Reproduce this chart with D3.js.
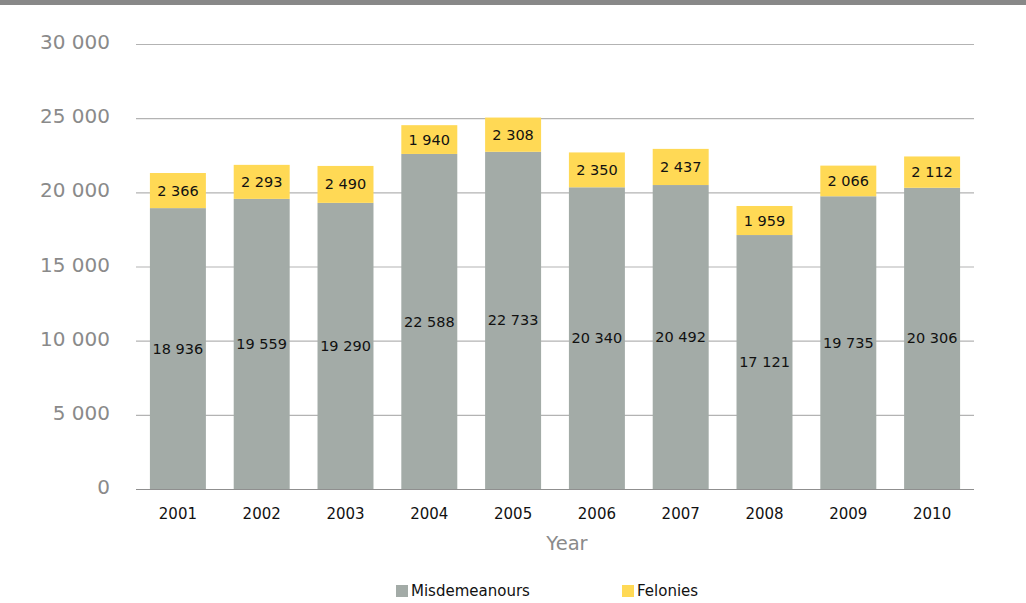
<!DOCTYPE html>
<html>
<head>
<meta charset="utf-8">
<script src="https://cdn.jsdelivr.net/npm/d3@7"></script>
<style>
  body { margin: 0; background: #fff; }
  svg { display: block; font-family: "DejaVu Sans", sans-serif; }
</style>
</head>
<body>
<script>
var years = ["2001", "2002", "2003", "2004", "2005", "2006", "2007", "2008", "2009", "2010"];
var misdemeanours = [18936, 19559, 19290, 22588, 22733, 20340, 20492, 17121, 19735, 20306];
var felonies = [2366, 2293, 2490, 1940, 2308, 2350, 2437, 1959, 2066, 2112];
var yTicks = [0, 5000, 10000, 15000, 20000, 25000, 30000];
var seriesNames = ["Misdemeanours", "Felonies"];
var colors = ["#a3aba7", "#ffd955"];

var W = 1026, H = 603;
var margin = {top: 44, right: 52, bottom: 114, left: 136},
    width = W - margin.left - margin.right,
    height = H - margin.top - margin.bottom;

var fmt = function(v) { return d3.format(",")(v).replace(/,/g, " "); };

var svg = d3.select("body").append("svg")
    .attr("width", W)
    .attr("height", H);

// top band
svg.append("rect").attr("x", 0).attr("y", 0).attr("width", W).attr("height", 5).attr("fill", "#888");

var g = svg.append("g")
    .attr("transform", "translate(" + margin.left + "," + margin.top + ")");

var x = d3.scaleBand().domain(years).range([0, width]).paddingInner(0.332).paddingOuter(0.166);
var y = d3.scaleLinear().domain([0, 30000]).range([height, 0]);

// grid
g.selectAll(".grid")
    .data(yTicks)
    .enter().append("line")
    .attr("x1", 0).attr("x2", width)
    .attr("y1", function(d) { return y(d) + 0.5; })
    .attr("y2", function(d) { return y(d) + 0.5; })
    .attr("stroke", function(d) { return d === 0 ? "#8f8f8f" : "#b3b3b3"; })
    .attr("stroke-width", 1.2);

// y labels
g.selectAll(".ylab")
    .data(yTicks)
    .enter().append("text")
    .attr("x", -26)
    .attr("y", function(d) { return y(d) - 2; })
    .attr("dy", "0.35em")
    .attr("text-anchor", "end")
    .attr("fill", "#8a8a8a")
    .attr("font-size", "20px")
    .text(fmt);

var data = years.map(function(yr, i) {
    return {year: yr, Misdemeanours: misdemeanours[i], Felonies: felonies[i]};
});
var stacked = d3.stack().keys(seriesNames)(data);

var layer = g.selectAll(".layer")
    .data(stacked)
    .enter().append("g")
    .attr("fill", function(d, i) { return colors[i]; });

layer.selectAll("rect")
    .data(function(d) { return d; })
    .enter().append("rect")
    .attr("x", function(d) { return x(d.data.year); })
    .attr("y", function(d) { return y(d[1]); })
    .attr("width", x.bandwidth())
    .attr("height", function(d) { return y(d[0]) - y(d[1]); });

layer.selectAll("text")
    .data(function(d) { return d; })
    .enter().append("text")
    .attr("x", function(d) { return x(d.data.year) + x.bandwidth() / 2; })
    .attr("y", function(d) { return y((d[0] + d[1]) / 2); })
    .attr("dy", "0.35em")
    .attr("text-anchor", "middle")
    .attr("fill", "#111")
    .attr("font-size", "14.5px")
    .text(function(d) { return fmt(d[1] - d[0]); });

// x axis labels
g.selectAll(".xlab")
    .data(years)
    .enter().append("text")
    .attr("x", function(d) { return x(d) + x.bandwidth() / 2; })
    .attr("y", height + 30)
    .attr("text-anchor", "middle")
    .attr("fill", "#111")
    .attr("font-size", "15px")
    .text(function(d) { return d; });

// axis title
g.append("text")
    .attr("x", width / 2 + 12)
    .attr("y", height + 61)
    .attr("text-anchor", "middle")
    .attr("fill", "#8a8a8a")
    .attr("font-size", "19.5px")
    .text("Year");

// legend
var legendX = [396, 622];
var legend = svg.selectAll(".legend")
    .data(seriesNames)
    .enter().append("g")
    .attr("transform", function(d, i) { return "translate(" + legendX[i] + ",585)"; });
legend.append("rect")
    .attr("width", 12).attr("height", 12)
    .attr("fill", function(d, i) { return colors[i]; });
legend.append("text")
    .attr("x", 15).attr("y", 6)
    .attr("dy", "0.35em")
    .attr("fill", "#111")
    .attr("font-size", "15px")
    .text(function(d) { return d; });
</script>
</body>
</html>
